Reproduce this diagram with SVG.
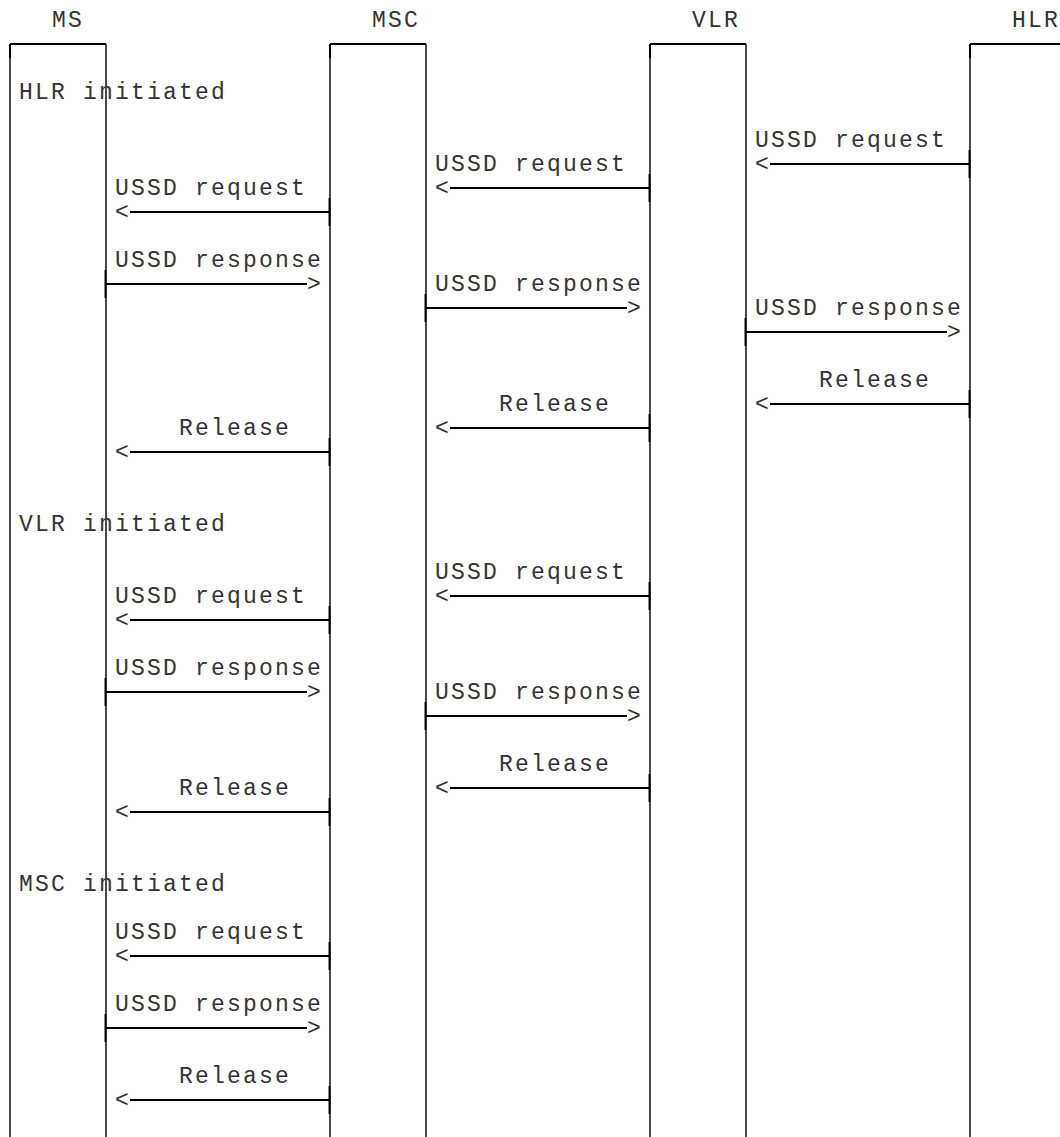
<svg xmlns="http://www.w3.org/2000/svg" width="1060" height="1137" viewBox="0 0 1060 1137">
<style>
text{font-family:"Liberation Mono","Courier New",monospace;font-size:23px;letter-spacing:2.2px;fill:#333;}
.life{stroke:#000;stroke-width:1.4;fill:none;}
.top{stroke:#000;stroke-width:2;fill:none;}
.msg{stroke:#000;stroke-width:2;fill:none;}
.tick{stroke:#000;stroke-width:2;fill:none;}
</style>
<rect width="1060" height="1137" fill="#fff"/>
<g id="MS">
<text x="52" y="27">MS</text>
<path class="top" d="M10,44H106"/>
<path class="life" d="M10,44V1137M106,44V1137"/>
<path class="tick" d="M10,44V58"/>
</g>
<g id="MSC">
<text x="372" y="27">MSC</text>
<path class="top" d="M330,44H426"/>
<path class="life" d="M330,44V1137M426,44V1137"/>
<path class="tick" d="M330,44V58"/>
</g>
<g id="VLR">
<text x="692" y="27">VLR</text>
<path class="top" d="M650,44H746"/>
<path class="life" d="M650,44V1137M746,44V1137"/>
<path class="tick" d="M650,44V58"/>
</g>
<g id="HLR">
<text x="1012" y="27">HLR</text>
<path class="top" d="M970,44H1060"/>
<path class="life" d="M970,44V1137"/>
<path class="tick" d="M970,44V58"/>
</g>
<g id="sections">
<text x="19" y="99">HLR initiated</text>
<text x="19" y="531">VLR initiated</text>
<text x="19" y="891">MSC initiated</text>
</g>
<g id="connectors">
<text x="755" y="147">USSD request</text>
<text x="755" y="171">&lt;</text>
<path class="msg" d="M770,164H970"/><path class="tick" d="M969.5,150V178"/>
<text x="435" y="171">USSD request</text>
<text x="435" y="195">&lt;</text>
<path class="msg" d="M450,188H650"/><path class="tick" d="M649.5,174V202"/>
<text x="115" y="195">USSD request</text>
<text x="115" y="219">&lt;</text>
<path class="msg" d="M130,212H330"/><path class="tick" d="M329.5,198V226"/>
<text x="115" y="267">USSD response</text>
<path class="msg" d="M106,284H307"/><path class="tick" d="M105.5,270V298"/>
<text x="307" y="291">&gt;</text>
<text x="435" y="291">USSD response</text>
<path class="msg" d="M426,308H627"/><path class="tick" d="M425.5,294V322"/>
<text x="627" y="315">&gt;</text>
<text x="755" y="315">USSD response</text>
<path class="msg" d="M746,332H947"/><path class="tick" d="M745.5,318V346"/>
<text x="947" y="339">&gt;</text>
<text x="819" y="387">Release</text>
<text x="755" y="411">&lt;</text>
<path class="msg" d="M770,404H970"/><path class="tick" d="M969.5,390V418"/>
<text x="499" y="411">Release</text>
<text x="435" y="435">&lt;</text>
<path class="msg" d="M450,428H650"/><path class="tick" d="M649.5,414V442"/>
<text x="179" y="435">Release</text>
<text x="115" y="459">&lt;</text>
<path class="msg" d="M130,452H330"/><path class="tick" d="M329.5,438V466"/>
<text x="435" y="579">USSD request</text>
<text x="435" y="603">&lt;</text>
<path class="msg" d="M450,596H650"/><path class="tick" d="M649.5,582V610"/>
<text x="115" y="603">USSD request</text>
<text x="115" y="627">&lt;</text>
<path class="msg" d="M130,620H330"/><path class="tick" d="M329.5,606V634"/>
<text x="115" y="675">USSD response</text>
<path class="msg" d="M106,692H307"/><path class="tick" d="M105.5,678V706"/>
<text x="307" y="699">&gt;</text>
<text x="435" y="699">USSD response</text>
<path class="msg" d="M426,716H627"/><path class="tick" d="M425.5,702V730"/>
<text x="627" y="723">&gt;</text>
<text x="499" y="771">Release</text>
<text x="435" y="795">&lt;</text>
<path class="msg" d="M450,788H650"/><path class="tick" d="M649.5,774V802"/>
<text x="179" y="795">Release</text>
<text x="115" y="819">&lt;</text>
<path class="msg" d="M130,812H330"/><path class="tick" d="M329.5,798V826"/>
<text x="115" y="939">USSD request</text>
<text x="115" y="963">&lt;</text>
<path class="msg" d="M130,956H330"/><path class="tick" d="M329.5,942V970"/>
<text x="115" y="1011">USSD response</text>
<path class="msg" d="M106,1028H307"/><path class="tick" d="M105.5,1014V1042"/>
<text x="307" y="1035">&gt;</text>
<text x="179" y="1083">Release</text>
<text x="115" y="1107">&lt;</text>
<path class="msg" d="M130,1100H330"/><path class="tick" d="M329.5,1086V1114"/>
</g>
</svg>
